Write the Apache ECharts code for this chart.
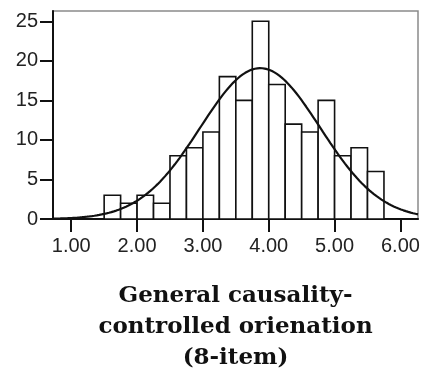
<!DOCTYPE html>
<html>
<head>
<meta charset="utf-8">
<script src="https://cdn.jsdelivr.net/npm/echarts@6/dist/echarts.min.js"></script>
<style>
  html, body { margin: 0; padding: 0; background: #fff; }
  #chart { width: 425px; height: 374px; }
</style>
</head>
<body>
<div id="chart"></div>
<script>
// Histogram bins (lower edge of each 0.25-wide bin) and their frequencies
const binStarts = [1.50, 1.75, 2.00, 2.25, 2.50, 2.75, 3.00, 3.25, 3.50, 3.75, 4.00, 4.25, 4.50, 4.75, 5.00, 5.25, 5.50];
const counts    = [3, 2, 3, 2, 8, 9, 11, 18, 15, 25, 17, 12, 11, 15, 8, 9, 6];
const binWidth = 0.25;

// Tick labels
const xTicks = [1, 2, 3, 4, 5, 6];
const yTicks = [0, 5, 10, 15, 20, 25];

// Sample statistics for the normal curve overlay
const sampleMean = 3.87;
const sampleSD = 0.91;

const titleLines = ['General causality-', 'controlled orienation', '(8-item)'];

const xMin = 0.723, xMax = 6.267;
const yMax = 26.3;

const n = counts.reduce((a, b) => a + b, 0);

// Normal density scaled to the frequency axis (N * bin width)
const curve = [];
for (let i = 0; i <= 300; i++) {
  const x = xMin + (xMax - xMin) * i / 300;
  const z = (x - sampleMean) / sampleSD;
  const y = n * binWidth * Math.exp(-0.5 * z * z) / (sampleSD * Math.sqrt(2 * Math.PI));
  curve.push([x, y]);
}

const bars = binStarts.map((s, i) => [s, s + binWidth, counts[i]]);

const chart = echarts.init(document.getElementById('chart'), null, { renderer: 'canvas' });

const labelFont = { fontFamily: 'Liberation Sans, Arial, sans-serif', fontSize: 20, color: '#222' };

chart.setOption({
  animation: false,
  grid: {
    left: 53, right: 7, top: 11, bottom: 155,
    show: true, borderColor: '#8a8a8a', borderWidth: 1.5, backgroundColor: 'transparent'
  },
  xAxis: {
    type: 'value', min: xMin, max: xMax,
    splitLine: { show: false },
    axisLine: { lineStyle: { color: '#111', width: 2 } },
    axisTick: { show: true, length: 13, lineStyle: { color: '#111', width: 2 }, customValues: xTicks },
    axisLabel: Object.assign({ margin: 17, customValues: xTicks, formatter: v => v.toFixed(2) }, labelFont)
  },
  yAxis: {
    type: 'value', min: 0, max: yMax,
    splitLine: { show: false },
    axisLine: { lineStyle: { color: '#111', width: 2 } },
    axisTick: { show: true, length: 13, lineStyle: { color: '#111', width: 2 }, customValues: yTicks },
    axisLabel: Object.assign({ margin: 15, customValues: yTicks }, labelFont)
  },
  series: [
    {
      type: 'custom',
      data: bars,
      renderItem: function (params, api) {
        const p0 = api.coord([api.value(0), api.value(2)]);
        const p1 = api.coord([api.value(1), 0]);
        return {
          type: 'rect',
          shape: { x: p0[0], y: p0[1], width: p1[0] - p0[0], height: p1[1] - p0[1] },
          style: { fill: '#fff', stroke: '#111', lineWidth: 1.6 }
        };
      },
      z: 2
    },
    {
      type: 'line',
      data: curve,
      showSymbol: false,
      smooth: false,
      lineStyle: { color: '#111', width: 2.2 },
      z: 3
    }
  ],
  graphic: [
    {
      type: 'text',
      x: 235.5,
      y: 281,
      style: {
        text: titleLines.join('\n'),
        fontFamily: 'DejaVu Serif, serif',
        fontWeight: 'bold',
        fontSize: 23,
        lineHeight: 31,
        textAlign: 'center',
        textVerticalAlign: 'top',
        fill: '#111'
      }
    }
  ]
});
</script>
</body>
</html>
